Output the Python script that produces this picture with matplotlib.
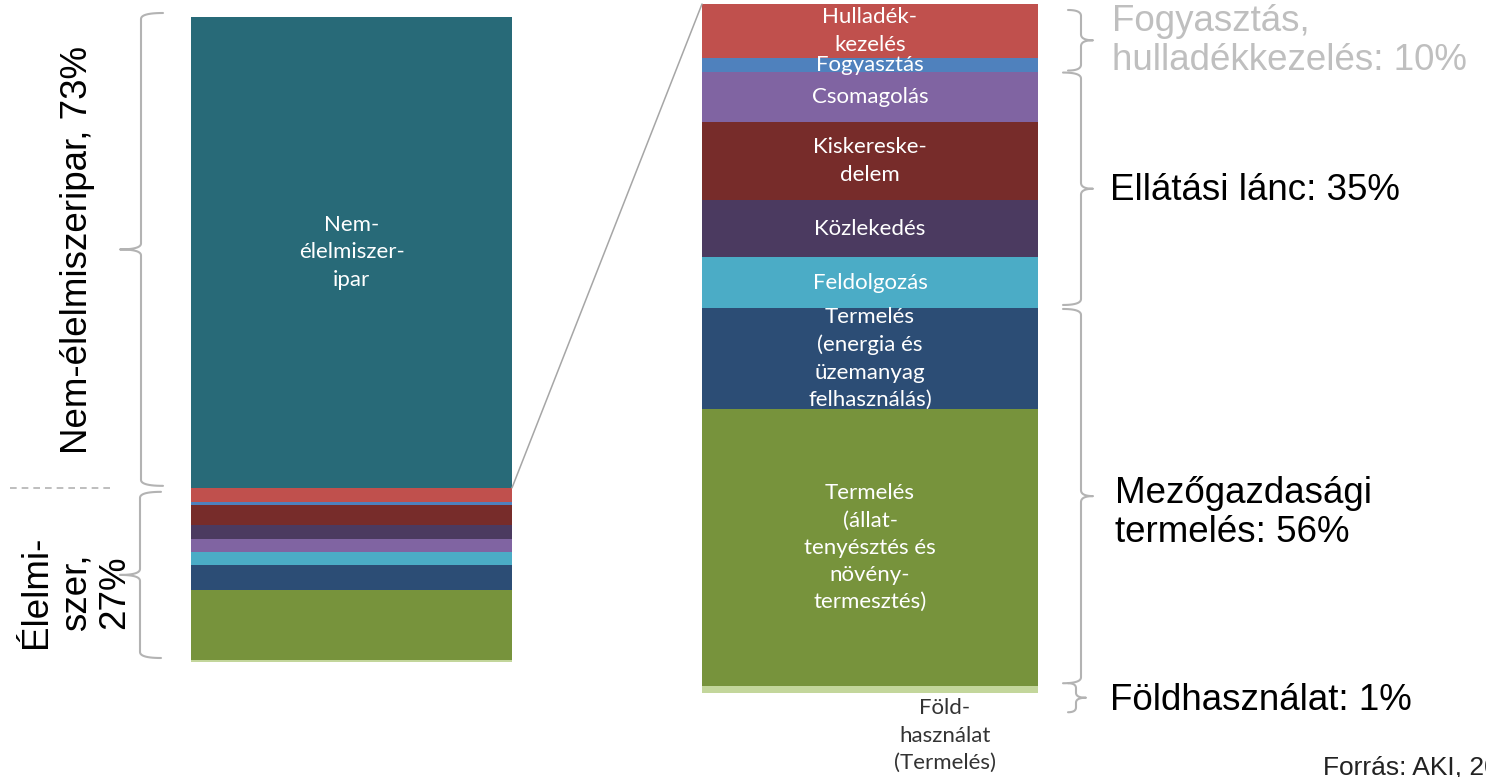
import numpy as np
import matplotlib.pyplot as plt
from matplotlib.lines import Line2D
from matplotlib.patches import ConnectionPatch

# Élelmiszerrendszer kibocsátásának megoszlása (%)
categories = [
    "Föld-\nhasználat\n(Termelés)",
    "Termelés\n(állat-\ntenyésztés és\nnövény-\ntermesztés)",
    "Termelés\n(energia és\nüzemanyag\nfelhasználás)",
    "Feldolgozás",
    "Közlekedés",
    "Kiskereske-\ndelem",
    "Csomagolás",
    "Fogyasztás",
    "Hulladék-\nkezelés",
]
food_values = [1, 41, 15, 7.5, 8.5, 11.5, 7.5, 2, 8]
colors = ["#c3d69b", "#77933c", "#2c4d75", "#4bacc6", "#4b3a60",
          "#772c2a", "#8064a2", "#4f81bd", "#c0504d"]

# bal oldali oszlop: nem-élelmiszeripar vs. élelmiszer
nonfood_share = 73
food_share = 27
nonfood_label = "Nem-\nélelmiszer-\nipar"
left_order = [0, 1, 2, 3, 6, 4, 5, 7, 8]

# csoportok a jobb oldali oszlop mellett
groups = [
    ("Földhasználat: 1%", [0]),
    ("Mezőgazdasági\ntermelés: 56%", [1, 2]),
    ("Ellátási lánc: 35%", [3, 4, 5, 6]),
    ("Fogyasztás,\nhulladékkezelés: 10%", [7, 8]),
]

W, H = 1486, 777
fig = plt.figure(figsize=(W / 100, H / 100), dpi=100)
fig.patch.set_facecolor("white")

BIG = dict(family="Liberation Sans", fontsize=26.5)
SMALL = dict(family="Lato", fontsize=16, linespacing=1.45)
GREY = "#b3b3b3"


def px_axes(x0, y0, x1, y1):
    ax = fig.add_axes([x0 / W, 1 - y1 / H, (x1 - x0) / W, (y1 - y0) / H])
    ax.set_axis_off()
    return ax


def img_y(ax, v):
    return H - ax.transData.transform((0, v))[1]


def brace(x_spine, x_hook, x_tip, y_top, y_bot, y_tip=None, r=6):
    if y_tip is None:
        y_tip = (y_top + y_bot) / 2

    def quad(p0, p1, p2, n=14):
        t = np.linspace(0, 1, n)[:, None]
        return ((1 - t) ** 2 * np.array(p0) + 2 * (1 - t) * t * np.array(p1)
                + t ** 2 * np.array(p2))

    pts = np.vstack([
        quad((x_hook, y_top), (x_spine, y_top), (x_spine, y_top + r)),
        quad((x_spine, y_tip - r), (x_spine, y_tip), (x_tip, y_tip)),
        quad((x_tip, y_tip), (x_spine, y_tip), (x_spine, y_tip + r)),
        quad((x_spine, y_bot - r), (x_spine, y_bot), (x_hook, y_bot)),
    ])
    fig.add_artist(Line2D(pts[:, 0] / W, 1 - pts[:, 1] / H,
                          color=GREY, lw=1.5, solid_capstyle="round"))
    return y_tip


# --- bal oldali oszlop ---
ax_l = px_axes(191, 17, 512, 662)
ax_l.set_xlim(-0.5, 0.5)
ax_l.set_ylim(0, nonfood_share + food_share)
scale = food_share / sum(food_values)
bottom = 0
for i in left_order:
    h = food_values[i] * scale
    ax_l.bar(0, h, bottom=bottom, width=1, color=colors[i], linewidth=0)
    bottom += h
ax_l.bar(0, nonfood_share, bottom=bottom, width=1, color="#286a78", linewidth=0)
ax_l.text(0, bottom + nonfood_share / 2, nonfood_label, ha="center",
          va="center", color="white", multialignment="center", **SMALL)

# --- jobb oldali oszlop ---
ax_r = px_axes(702, 4, 1038, 693)
ax_r.set_xlim(-0.5, 0.5)
ax_r.set_ylim(0, sum(food_values))
bottoms = np.concatenate([[0], np.cumsum(food_values)[:-1]])
ax_r.bar(np.zeros(len(food_values)), food_values, bottom=bottoms, width=1,
         color=colors, linewidth=0)
for name, v, b in zip(categories[1:], food_values[1:], bottoms[1:]):
    ax_r.text(0, b + v / 2, name, ha="center", va="center", color="white",
              multialignment="center", **SMALL)
ax_r.text(0.223, -6.3, categories[0], ha="center", va="center",
          color="#333333", multialignment="center", clip_on=False, **SMALL)

# összekötő vonal a két oszlop között
con = ConnectionPatch(xyA=(0.5, food_share), coordsA=ax_l.transData,
                      xyB=(-0.5, sum(food_values)), coordsB=ax_r.transData,
                      color="#a6a6a6", lw=1.1)
fig.add_artist(con)

# szaggatott elválasztó és kapcsos zárójelek bal oldalon
y_split = img_y(ax_l, food_share)
fig.add_artist(Line2D([10 / W, 112 / W], [1 - y_split / H] * 2, color=GREY,
                      lw=1.2, linestyle=(0, (4, 3))))
brace(141, 163, 120, img_y(ax_l, nonfood_share + food_share) - 4, y_split - 2)
brace(140, 161, 120, y_split + 4, img_y(ax_l, 0) - 4)

fig.text(78 / W, 1 - 250 / H, "Nem-élelmiszeripar, 73%", rotation=90,
         ha="center", va="center", **BIG)
fig.text(76 / W, 1 - 592 / H, "Élelmi-\nszer,\n27%", rotation=90,
         ha="center", va="center", multialignment="center", linespacing=1.15,
         **BIG)

# kapcsos zárójelek és feliratok jobb oldalon
edges = np.concatenate([[0], np.cumsum(food_values)])
label_pos = {
    "Földhasználat: 1%": (1110, 700, "black"),
    "Mezőgazdasági\ntermelés: 56%": (1115, 513, "black"),
    "Ellátási lánc: 35%": (1110, 190, "black"),
    "Fogyasztás,\nhulladékkezelés: 10%": (1112, 41, "#bfbfbf"),
}
for text, idx in groups:
    lo, hi = edges[idx[0]], edges[idx[-1] + 1]
    y_top, y_bot = img_y(ax_r, hi), img_y(ax_r, lo)
    if idx == [0]:
        brace(1076, 1068, 1086, y_top - 3, y_top + 26, r=5)
    elif idx[-1] == len(food_values) - 1:
        brace(1081, 1068, 1093, y_top + 6, y_bot - 1)
    else:
        brace(1081, 1063, 1093, y_top + 1, y_bot - 3)
    x, y, c = label_pos[text]
    fig.text(x / W, 1 - y / H, text, ha="left", va="center", color=c,
             linespacing=1.15, **BIG)

fig.text(1323 / W, 3 / H, "Forrás: AKI, 2019", ha="left", va="baseline",
         family="Liberation Sans", fontsize=19, color="#222222")

fig.savefig("out.png", dpi=100, facecolor="white")
